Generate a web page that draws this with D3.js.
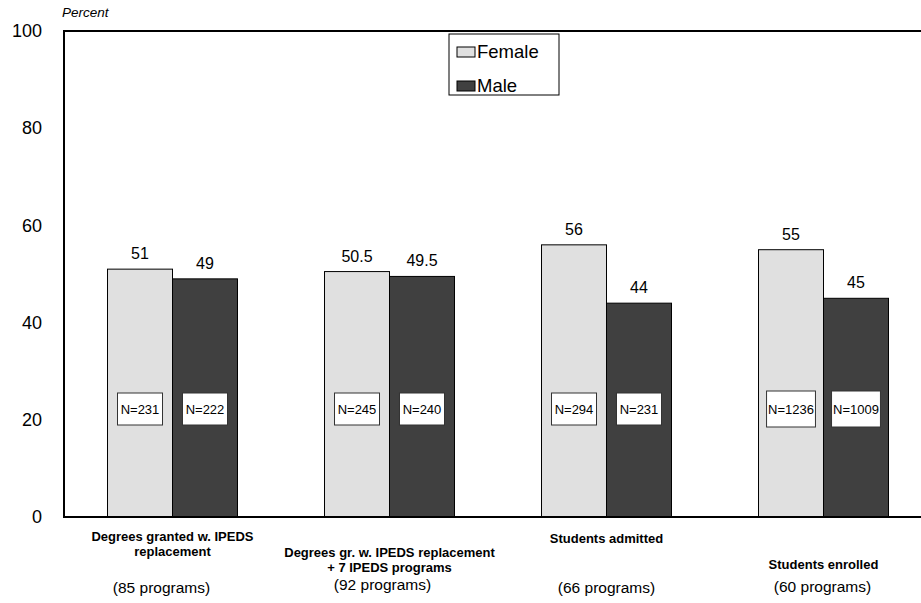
<!DOCTYPE html>
<html>
<head>
<meta charset="utf-8">
<script src="https://cdn.jsdelivr.net/npm/d3@7"></script>
<style>
  html, body { margin: 0; padding: 0; background: #fff; }
  svg { display: block; font-family: Arial, "Liberation Sans", sans-serif; }
</style>
</head>
<body>
<svg id="chart" width="921" height="603"></svg>
<script>
// Share of female and male students, by data source
const categories = [
  "Degrees granted w. IPEDS replacement",
  "Degrees gr. w. IPEDS replacement + 7 IPEDS programs",
  "Students admitted",
  "Students enrolled"
];
const categoryLines = [
  ["Degrees granted w. IPEDS", "replacement"],
  ["Degrees gr. w. IPEDS replacement", "+ 7 IPEDS programs"],
  ["Students admitted"],
  ["Students enrolled"]
];
const programCounts = ["(85 programs)", "(92 programs)", "(66 programs)", "(60 programs)"];
const seriesNames = ["Female", "Male"];
const femaleValues = [51, 50.5, 56, 55];
const maleValues = [49, 49.5, 44, 45];
const femaleValueLabels = ["51", "50.5", "56", "55"];
const maleValueLabels = ["49", "49.5", "44", "45"];
const femaleN = [231, 245, 294, 1236];
const maleN = [222, 240, 231, 1009];
const yTicks = [0, 20, 40, 60, 80, 100];

// layout
const plotLeft = 64, plotRight = 932, plotTop = 31, plotBottom = 517;
const fills = { Female: "#e0e0e0", Male: "#404040" };
// per-category baselines for the axis captions
const captionY = [541, 557, 543, 569];
const captionLineGap = 14.5;
const programY = [593, 590, 593, 592];
const programDx = [-11, -7, 0, -1];

const svg = d3.select("#chart");

const x = d3.scaleBand().domain(categories).range([plotLeft, plotRight])
  .paddingInner(0.401).paddingOuter(0.2005);
const xs = d3.scaleBand().domain(seriesNames).range([0, x.bandwidth()]);
const y = d3.scaleLinear().domain([0, 100]).range([plotBottom, plotTop]);

const rows = categories.map((c, i) => ({
  cat: c,
  bars: [
    { key: "Female", value: femaleValues[i], label: femaleValueLabels[i], n: femaleN[i] },
    { key: "Male", value: maleValues[i], label: maleValueLabels[i], n: maleN[i] }
  ]
}));

// y axis labels (no tick marks)
const yAxis = d3.axisLeft(y).tickValues(yTicks).tickSize(0).tickPadding(22);
const yg = svg.append("g").attr("transform", `translate(${plotLeft},0)`).call(yAxis);
yg.select(".domain").remove();
yg.selectAll("text").attr("font-size", 18).attr("fill", "#000")
  .attr("font-family", "Arial, 'Liberation Sans', sans-serif");

svg.append("text").attr("x", 62).attr("y", 17)
  .attr("font-size", 13.5).attr("font-style", "italic").text("Percent");

// bars
const groups = svg.selectAll("g.cat").data(rows).join("g")
  .attr("class", "cat")
  .attr("transform", d => `translate(${x(d.cat)},0)`);

groups.selectAll("rect.bar").data(d => d.bars).join("rect")
  .attr("class", "bar")
  .attr("x", d => xs(d.key))
  .attr("y", d => y(d.value))
  .attr("width", xs.bandwidth())
  .attr("height", d => y(0) - y(d.value))
  .attr("fill", d => fills[d.key])
  .attr("stroke", "#000").attr("stroke-width", 1);

groups.selectAll("text.val").data(d => d.bars).join("text")
  .attr("class", "val")
  .attr("x", d => xs(d.key) + xs.bandwidth() / 2)
  .attr("y", d => y(d.value) - 10)
  .attr("text-anchor", "middle").attr("font-size", 16)
  .text(d => d.label);

// N boxes inside bars
groups.each(function (d) {
  const g = d3.select(this);
  d.bars.forEach(b => {
    const cx = xs(b.key) + xs.bandwidth() / 2;
    const big = b.n >= 1000;
    const h = big ? 36 : 32;
    const cy = 409;
    const box = g.append("rect");
    const t = g.append("text")
      .attr("x", cx).attr("y", cy + 4.5)
      .attr("text-anchor", "middle").attr("font-size", 13)
      .text("N=" + b.n);
    const w = Math.max(45, t.node().getComputedTextLength() + 3);
    box.attr("x", cx - w / 2).attr("y", cy - h / 2)
      .attr("width", w).attr("height", h)
      .attr("fill", "#fff").attr("stroke", "#333").attr("stroke-width", 1);
  });
});

// frame
svg.append("path")
  .attr("d", `M${plotRight},${plotTop}H${plotLeft}V${plotBottom}H${plotRight}`)
  .attr("fill", "none").attr("stroke", "#000").attr("stroke-width", 2);

// category captions
categories.forEach((c, i) => {
  const cx = x(c) + x.bandwidth() / 2;
  const t = svg.append("text").attr("text-anchor", "middle")
    .attr("font-size", 13).attr("font-weight", "bold");
  categoryLines[i].forEach((line, j) => {
    t.append("tspan").attr("x", cx).attr("y", captionY[i] + j * captionLineGap).text(line);
  });
  svg.append("text").attr("x", cx + programDx[i]).attr("y", programY[i])
    .attr("text-anchor", "middle").attr("font-size", 15.5).text(programCounts[i]);
});

// legend
const lg = svg.append("g").attr("transform", "translate(449,34)");
lg.append("rect").attr("width", 110).attr("height", 61)
  .attr("fill", "#fff").attr("stroke", "#000").attr("stroke-width", 1);
seriesNames.forEach((s, i) => {
  const row = lg.append("g").attr("transform", `translate(8,${13 + i * 34})`);
  row.append("rect").attr("width", 18).attr("height", 10)
    .attr("fill", fills[s]).attr("stroke", "#000").attr("stroke-width", 1);
  row.append("text").attr("x", 20).attr("y", 10.5).attr("font-size", 18.5).text(s);
});
</script>
</body>
</html>
